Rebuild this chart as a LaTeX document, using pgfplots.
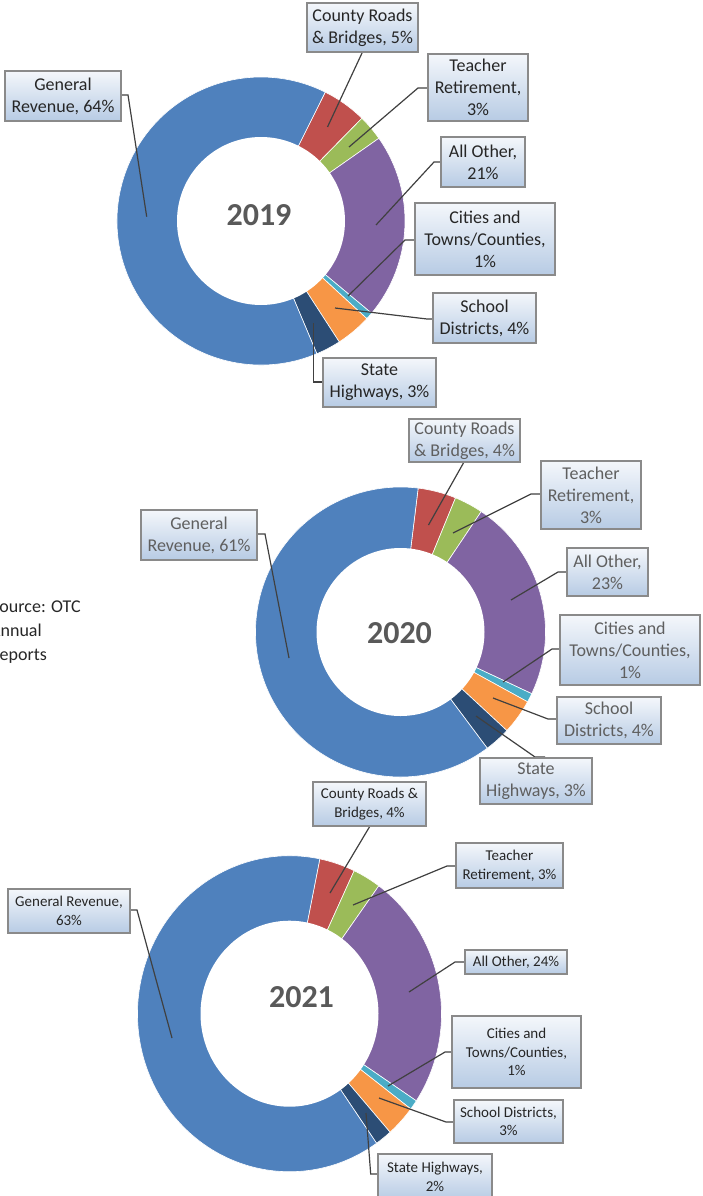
\documentclass[border=0pt]{standalone}
\usepackage{pgfplots}
\pgfplotsset{compat=1.18}
\usepackage{fontspec}
\setmainfont{Carlito}
\definecolor{cBlue}{HTML}{4F81BD}
\definecolor{cRed}{HTML}{C0504D}
\definecolor{cGreen}{HTML}{9BBB59}
\definecolor{cPurple}{HTML}{8064A2}
\definecolor{cCyan}{HTML}{4BACC6}
\definecolor{cOrange}{HTML}{F79646}
\definecolor{cDark}{HTML}{2C4D75}
\definecolor{boxtop}{HTML}{F4F7FB}
\definecolor{boxbot}{HTML}{B7CBE4}
\definecolor{boxborder}{HTML}{8A8A8A}
\definecolor{leader}{HTML}{404040}
\definecolor{txtA}{HTML}{262626}
\definecolor{txtB}{HTML}{5F5F5F}
\definecolor{yeartxt}{HTML}{595959}

% donut state
\newcommand{\setdonut}[5]{\gdef\dcx{#1}\gdef\dcy{#2}\gdef\drx{#3}\gdef\dry{#4}\xdef\dang{#5}}
\newcommand{\slice}[2]{%
  \pgfmathsetmacro{\aA}{90-\dang}%
  \pgfmathsetmacro{\aB}{90-\dang-3.6*#1}%
  \edef\tmp{\noexpand\fill[#2,draw=white,line width=0.6pt] (axis cs:\dcx,\dcy) -- ++(\aA:\drx pt and \dry pt) arc[start angle=\aA, end angle=\aB, x radius=\drx pt, y radius=\dry pt] -- cycle;}%
  \tmp
  \pgfmathsetmacro{\tmpang}{\dang+3.6*#1}\xdef\dang{\tmpang}}
\newcommand{\hole}[4]{\fill[white] (axis cs:#1,#2) ellipse[x radius=#3pt, y radius=#4pt];}
\newcommand{\bx}[6]{%
  \fill[top color=boxtop,bottom color=boxbot,draw=boxborder,line width=1.4pt] (axis cs:#1,#2) rectangle (axis cs:#3,#4);
  \node[align=center,inner sep=0pt,#5] at (axis cs:{(#1+#3)/2},{(#2+#4)/2}) {#6};}
\tikzset{ld/.style={draw=leader,line width=1.2pt}}
\newcommand{\fA}{\fontsize{18}{22}\selectfont}
\newcommand{\fC}{\fontsize{15}{18.5}\selectfont}

\begin{document}
\begin{tikzpicture}
\useasboundingbox (0,0) rectangle (702pt,1196pt);
\clip (0,0) rectangle (702pt,1196pt);
\begin{axis}[at={(0,0)}, anchor=south west, scale only axis, width=702pt, height=1196pt,
  xmin=0, xmax=702, ymin=0, ymax=1196, y dir=reverse, hide axis, clip=false]
\addplot[draw=none] coordinates {(0,0) (702,1196)};

% ---------- 2019 ----------
\setdonut{261}{221}{144}{144}{26.5}
\slice{5.0}{cRed}
\slice{2.9}{cGreen}
\slice{20.8}{cPurple}
\slice{0.8}{cCyan}
\slice{4.0}{cOrange}
\slice{2.8}{cDark}
\slice{63.7}{cBlue}
\hole{261}{221}{84}{84}
\node[font=\fontsize{32}{36}\selectfont\bfseries,text=yeartxt] at (axis cs:259,215) {2019};

\draw[ld] (axis cs:121,95) -- (axis cs:128,95) -- (axis cs:146.7,216.7);
\draw[ld] (axis cs:362.5,52) -- (axis cs:327.5,127);
\draw[ld] (axis cs:428,88) -- (axis cs:418,88) -- (axis cs:349,147);
\draw[ld] (axis cs:441,162) -- (axis cs:434,162) -- (axis cs:376,225);
\draw[ld] (axis cs:415,240) -- (axis cs:405,240) -- (axis cs:348,296);
\draw[ld] (axis cs:433,319) -- (axis cs:427,319) -- (axis cs:335,308);
\draw[ld] (axis cs:323,382) -- (axis cs:313.5,382) -- (axis cs:313.5,323);

\bx{5}{71}{121}{121}{font=\fA,text=txtA}{General\\Revenue, 64\%}
\bx{307}{3}{418}{52}{font=\fA,text=txtA}{County Roads\\\& Bridges, 5\%}
\bx{428}{54}{528}{121}{font=\fA,text=txtA}{Teacher\\Retirement,\\3\%}
\bx{441}{137}{525}{187}{font=\fA,text=txtA}{All Other,\\21\%}
\bx{415}{203}{555}{275}{font=\fA,text=txtA}{Cities and\\Towns/Counties,\\1\%}
\bx{433}{293}{536}{343}{font=\fA,text=txtA}{School\\Districts, 4\%}
\bx{323}{358}{436}{407}{font=\fA,text=txtA}{State\\Highways, 3\%}

% ---------- 2020 ----------
\setdonut{400.5}{632}{145}{145}{7.0}
\slice{4.25}{cRed}
\slice{3.2}{cGreen}
\slice{22.6}{cPurple}
\slice{1.0}{cCyan}
\slice{3.9}{cOrange}
\slice{2.9}{cDark}
\slice{62.15}{cBlue}
\hole{400.5}{632}{84}{84}
\node[font=\fontsize{32}{36}\selectfont\bfseries,text=yeartxt] at (axis cs:399.5,633) {2020};

\draw[ld] (axis cs:257,534) -- (axis cs:265,534) -- (axis cs:289,658);
\draw[ld] (axis cs:464,462) -- (axis cs:428.5,525);
\draw[ld] (axis cs:541,494) -- (axis cs:531,494) -- (axis cs:453,533);
\draw[ld] (axis cs:567,572) -- (axis cs:558,572) -- (axis cs:511,600);
\draw[ld] (axis cs:560,649) -- (axis cs:552,649) -- (axis cs:503,682);
\draw[ld] (axis cs:557,719) -- (axis cs:548,719) -- (axis cs:493,698);
\draw[ld] (axis cs:476,716) -- (axis cs:535,757) -- (axis cs:545,757);

\bx{141}{510}{257}{560}{font=\fA,text=txtB}{General\\Revenue, 61\%}
\bx{409}{419}{520}{462}{font=\fA,text=txtB}{County Roads\\\& Bridges, 4\%}
\bx{541}{461}{641}{529}{font=\fA,text=txtB}{Teacher\\Retirement,\\3\%}
\bx{567}{548}{648}{596}{font=\fA,text=txtB}{All Other,\\23\%}
\bx{560}{615}{700}{685}{font=\fA,text=txtB}{Cities and\\Towns/Counties,\\1\%}
\bx{557}{697}{661}{744}{font=\fA,text=txtB}{School\\Districts, 4\%}
\bx{480}{758}{592}{804}{font=\fA,text=txtB}{State\\Highways, 3\%}

% ---------- 2021 ----------
\setdonut{289.5}{1013.7}{152}{158}{11.5}
\slice{3.8}{cRed}
\slice{3.0}{cGreen}
\slice{24.3}{cPurple}
\slice{1.0}{cCyan}
\slice{3.2}{cOrange}
\slice{1.8}{cDark}
\slice{62.9}{cBlue}
\hole{289.5}{1013.7}{89}{93}
\node[font=\fontsize{32}{36}\selectfont\bfseries,text=yeartxt] at (axis cs:301.5,997) {2021};

\draw[ld] (axis cs:130,910) -- (axis cs:137,910) -- (axis cs:172,1038);
\draw[ld] (axis cs:370,826) -- (axis cs:330,893);
\draw[ld] (axis cs:456,866) -- (axis cs:447,866) -- (axis cs:353,905);
\draw[ld] (axis cs:465,962) -- (axis cs:455,962) -- (axis cs:409,992);
\draw[ld] (axis cs:452,1052) -- (axis cs:445,1052) -- (axis cs:388,1086);
\draw[ld] (axis cs:454,1122) -- (axis cs:446,1122) -- (axis cs:379,1098);
\draw[ld] (axis cs:366,1113) -- (axis cs:370.7,1174) -- (axis cs:378,1174);

\bx{8}{889}{130}{933}{font=\fC,text=txtA}{General Revenue,\\63\%}
\bx{313}{782}{426}{826}{font=\fC,text=txtA}{County Roads \&\\Bridges, 4\%}
\bx{456}{843}{563}{888}{font=\fC,text=txtA}{Teacher\\Retirement, 3\%}
\bx{465}{950}{567}{974}{font=\fC,text=txtA}{All Other, 24\%}
\bx{452}{1016}{581}{1088}{font=\fC,text=txtA}{Cities and\\Towns/Counties,\\1\%}
\bx{454}{1100}{563}{1143}{font=\fC,text=txtA}{School Districts,\\3\%}
\bx{378}{1154}{492}{1200}{font=\fC,text=txtA}{State Highways,\\2\%}

% ---------- source (cut at the left edge, as in the reference) ----------
\node[anchor=base west,inner sep=0pt,font=\fontsize{18}{22}\selectfont,text=txtA] at (axis cs:-9,612) {Source: OTC};
\node[anchor=base west,inner sep=0pt,font=\fontsize{18}{22}\selectfont,text=txtA] at (axis cs:-10,636) {Annual};
\node[anchor=base west,inner sep=0pt,font=\fontsize{18}{22}\selectfont,text=txtA] at (axis cs:-10,660) {Reports};
\end{axis}
\end{tikzpicture}
\end{document}
